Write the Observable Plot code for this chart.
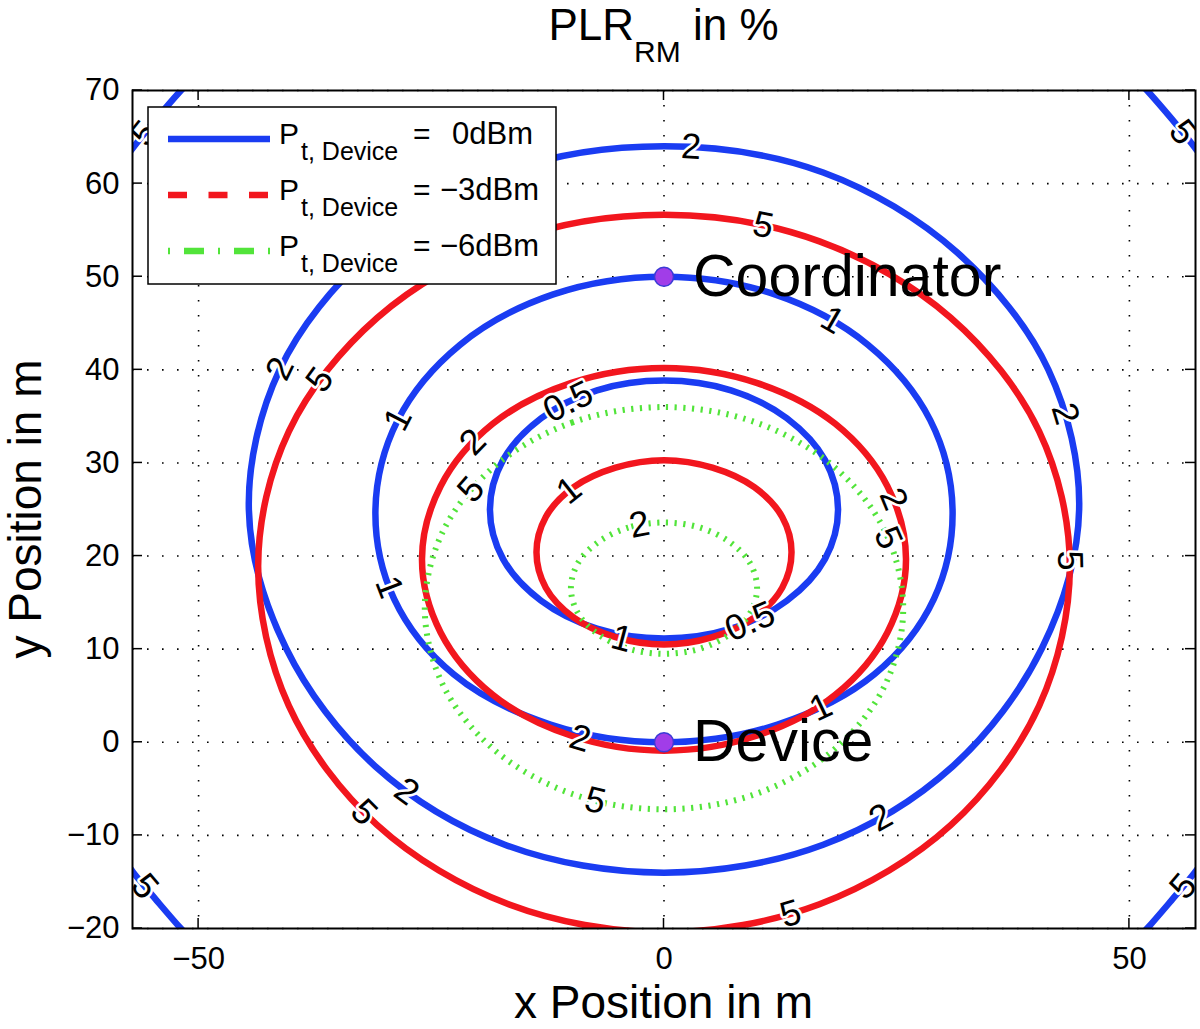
<!DOCTYPE html>
<html>
<head>
<meta charset="utf-8">
<script src="https://cdn.jsdelivr.net/npm/d3@7"></script>
<script src="https://cdn.jsdelivr.net/npm/@observablehq/plot@0.6"></script>
<style>
  html, body { margin: 0; padding: 0; background: #fff; }
  #chart svg { display: block; }
</style>
</head>
<body>
<div id="chart"></div>
<script>
// ---------------- data ----------------
const xTicks = [-50, 0, 50];
const yTicks = [-20, -10, 0, 10, 20, 30, 40, 50, 60, 70];
const xDomain = [-57.1, 57.1];
const yDomain = [-20, 70];

// P_t,Device = 0 dBm (blue) contour lines, levels 0.5, 1, 2, 5 %
const blue05 = [[0,38.85],[-7.2,37.8],[-13.2,34.8],[-17.3,30.3],[-18.7,25],[-17.3,19.7],[-13.2,15.2],[-7.2,12.2],[0,11.15],[7.2,12.2],[13.2,15.2],[17.3,19.7],[18.7,25],[17.3,30.3],[13.2,34.8],[7.2,37.8]];
const blue1 = [[0,50],[-11.9,48.1],[-21.9,42.7],[-28.6,34.6],[-31,25],[-29,15.4],[-22.6,7.3],[-12.2,1.9],[0,0],[12.2,1.9],[22.6,7.3],[29,15.4],[31,25],[28.6,34.6],[21.9,42.7],[11.9,48.1]];
const blue2 = [[0,64],[-17.1,61.2],[-31.5,52.6],[-41.3,40],[-44.6,25],[-40.6,10.1],[-31,-2.6],[-17.1,-11],[0,-14],[17.1,-11],[31,-2.6],[40.6,10.1],[44.6,25],[41.3,40],[31.5,52.6],[17.1,61.2]];
const blue5TL = [[-59.5,60.5],[-57,63.9],[-54.5,67],[-51.9,70],[-49.5,72.5]];
const blue5TR = [[49.5,72.5],[51.9,70],[54.5,67],[57,63.9],[59.5,60.5]];
const blue5BL = [[-59.5,-10.5],[-57,-14],[-54.5,-17],[-51.9,-20],[-49.5,-22.5]];
const blue5BR = [[49.5,-22.5],[51.9,-20],[54.5,-17],[57,-14],[59.5,-10.5]];

// P_t,Device = -3 dBm (red) contour lines, levels 1, 2, 5 %
const red1 = [[0,30.3],[-5.2,29.5],[-9.7,27.4],[-12.7,24.2],[-13.7,20.4],[-12.7,16.6],[-9.7,13.4],[-5.2,11.3],[0,10.5],[5.2,11.3],[9.7,13.4],[12.7,16.6],[13.7,20.4],[12.7,24.2],[9.7,27.4],[5.2,29.5]];
const red2 = [[0,40.2],[-9.95,38.6],[-18.4,34.2],[-24,27.5],[-26,19.65],[-24,11.8],[-18.4,5.1],[-9.95,0.7],[0,-0.9],[9.95,0.7],[18.4,5.1],[24,11.8],[26,19.65],[24,27.5],[18.4,34.2],[9.95,38.6]];
const red5 = [[0,56.65],[-16.7,53.8],[-30.8,45.6],[-40.3,33.4],[-43.6,19],[-40.3,3.9],[-30.8,-8.9],[-16.7,-17.4],[0,-20.4],[16.7,-17.4],[30.8,-8.9],[40.3,3.9],[43.6,19],[40.3,33.4],[30.8,45.6],[16.7,53.8]];

// P_t,Device = -6 dBm (green) contour lines, levels 2, 5 %
const green2 = [[0,23.6],[-3.83,23.06],[-7.07,21.5],[-9.24,19.25],[-10,16.55],[-9.24,13.85],[-7.07,11.6],[-3.83,10.04],[0,9.5],[3.83,10.04],[7.07,11.6],[9.24,13.85],[10,16.55],[9.24,19.25],[7.07,21.5],[3.83,23.06]];
const green5 = [[0,36],[-9.84,34.36],[-18.17,29.67],[-23.74,22.67],[-25.7,14.4],[-23.74,6.13],[-18.17,-0.87],[-9.84,-5.56],[0,-7.2],[9.84,-5.56],[18.17,-0.87],[23.74,6.13],[25.7,14.4],[23.74,22.67],[18.17,29.67],[9.84,34.36]];

// contour labels: [text, contour, x, y]
const contourLabels = [
  ["2","blue2",2.75,63.8], ["5","red5",10.7,55.5], ["1","blue1",18.2,45.5],
  ["2","blue2",-41.0,40.0], ["5","red5",-36.9,39.0], ["1","blue1",-28.6,34.7],
  ["0.5","blue05",-10.2,36.5], ["2","red2",-20.5,32.1], ["5","green5",-20.7,27.2],
  ["1","red1",-10.2,27.0], ["2","green2",-2.6,23.1], ["2","red2",24.5,26.1],
  ["5","green5",23.6,21.8], ["2","blue2",42.95,35.1], ["5","red5",42.95,19.5],
  ["1","blue1",-29.4,16.8], ["0.5","blue05",9.4,12.7], ["1","red1",-4.6,10.9],
  ["1","blue1",16.9,3.6], ["2","red2",-9.15,0.0], ["5","green5",-7.4,-6.6],
  ["2","blue2",-28.1,-6.1], ["5","red5",-32.8,-8.0], ["2","blue2",23.65,-8.8],
  ["5","red5",13.7,-18.4],
  ["5","blue5TL",-56.2,65.7], ["5","blue5TR",55.7,65.5],
  ["5","blue5BL",-55.9,-15.6], ["5","blue5BR",55.7,-15.4]
];

// nodes
const nodeNames = ["Coordinator", "Device"];
const nodeX = [0, 0];
const nodeY = [50, 0];

// legend
const legendValues = ["0dBm", "\u22123dBm", "\u22126dBm"];
const legendSub = "t, Device";

// ---------------- styling ----------------
const FONT = "'Liberation Sans', Arial, Helvetica, sans-serif";
const BLUE = "#1a3cf2", RED = "#f2161e", GREEN = "#52e43a";
const PURPLE = "#a13de8";

const closedSets = {blue05, blue1, blue2, red1, red2, red5, green2, green5};
const openSets = {blue5TL, blue5TR, blue5BL, blue5BR};
const toRows = (name, pts) => pts.map(([x, y]) => ({id: name, x, y}));

const blueClosed = ["blue05","blue1","blue2"].flatMap(n => toRows(n, closedSets[n]));
const blueOpen = Object.keys(openSets).flatMap(n => toRows(n, openSets[n]));
const redClosed = ["red1","red2","red5"].flatMap(n => toRows(n, closedSets[n]));
const greenClosed = ["green2","green5"].flatMap(n => toRows(n, closedSets[n]));

// sample the same catmull-rom curve Plot draws, to place labels on the lines
function sampleCurve(pts, closed) {
  const ns = "http://www.w3.org/2000/svg";
  const s = document.createElementNS(ns, "svg");
  s.style.position = "absolute"; s.style.width = "0"; s.style.height = "0";
  document.body.appendChild(s);
  const p = document.createElementNS(ns, "path");
  p.setAttribute("d", d3.line().curve(closed ? d3.curveCatmullRomClosed : d3.curveCatmullRom)(pts));
  s.appendChild(p);
  const L = p.getTotalLength(), N = 800, out = [];
  for (let i = 0; i < N; i++) { const q = p.getPointAtLength(L * i / (closed ? N : N - 1)); out.push([q.x, q.y]); }
  s.remove();
  return out;
}
const labelRows = contourLabels.map(([t, c, lx, ly]) => {
  const closed = c in closedSets;
  const S = sampleCurve(closed ? closedSets[c] : openSets[c], closed);
  const N = S.length;
  let k = 0, bd = Infinity;
  S.forEach(([x, y], i) => { const d = (x - lx) ** 2 + (y - ly) ** 2; if (d < bd) { bd = d; k = i; } });
  const ia = closed ? (k - 4 + N) % N : Math.max(0, k - 4);
  const ib = closed ? (k + 4) % N : Math.min(N - 1, k + 4);
  let ang = -Math.atan2(S[ib][1] - S[ia][1], S[ib][0] - S[ia][0]) * 180 / Math.PI;
  while (ang > 90) ang -= 180;
  while (ang < -90) ang += 180;
  return {t, x: S[k][0], y: S[k][1], angle: ang};
});

const nodes = nodeNames.map((name, i) => ({name, x: nodeX[i], y: nodeY[i]}));
const fmt = v => v < 0 ? "\u2212" + Math.abs(v) : String(v);

const gridStyle = {stroke: "black", strokeOpacity: 1, strokeWidth: 1.6, strokeDasharray: "1.6,13.4"};

const chart = Plot.plot({
  width: 1200,
  height: 1029,
  marginTop: 90,
  marginRight: 5,
  marginBottom: 101,
  marginLeft: 132,
  style: {fontFamily: FONT, fontSize: "31px", color: "black", background: "white", overflow: "visible"},
  x: {domain: xDomain, label: null},
  y: {domain: yDomain, label: null},
  marks: [
    Plot.gridX(xTicks, gridStyle),
    Plot.gridY(yTicks, gridStyle),
    Plot.line(blueClosed, {x: "x", y: "y", z: "id", stroke: BLUE, strokeWidth: 6.5, curve: "catmull-rom-closed", clip: true}),
    Plot.line(blueOpen, {x: "x", y: "y", z: "id", stroke: BLUE, strokeWidth: 6.5, curve: "catmull-rom", clip: true}),
    Plot.line(redClosed, {x: "x", y: "y", z: "id", stroke: RED, strokeWidth: 6.5, curve: "catmull-rom-closed", clip: true}),
    Plot.line(greenClosed, {x: "x", y: "y", z: "id", stroke: GREEN, strokeWidth: 6, strokeLinecap: "butt", strokeDasharray: "2.2,6.5", curve: "catmull-rom-closed", clip: true}),
    Plot.text(labelRows, {x: "x", y: "y", text: "t", rotate: "angle", fontSize: 36, fontFamily: FONT, fill: "black", stroke: "white", strokeWidth: 5, clip: true}),
    Plot.dot(nodes, {x: "x", y: "y", r: 9.5, fill: PURPLE, stroke: "#3b3bd6", strokeWidth: 1.5}),
    Plot.text(nodes, {x: "x", y: "y", text: "name", textAnchor: "start", dx: 29, fontSize: 59, fontFamily: FONT, fill: "black"}),
    Plot.axisX(xTicks, {anchor: "bottom", tickSize: 0, tickPadding: 18, tickFormat: fmt, fontSize: 31, label: null}),
    Plot.axisY(yTicks, {anchor: "left", tickSize: 0, tickPadding: 13, tickFormat: fmt, fontSize: 31, label: null}),
    Plot.frame({stroke: "black", strokeWidth: 2})
  ]
});
document.getElementById("chart").appendChild(chart);

// ---------------- decorations: inward ticks, title, axis labels, legend ----------------
const svg = d3.select(chart);
const sx = chart.scale("x"), sy = chart.scale("y");
const [fx0, fx1] = sx.range, [fy1, fy0] = sy.range; // fy0 top, fy1 bottom
const T = 10;
const tg = svg.append("g").attr("stroke", "black").attr("stroke-width", 1.5);
xTicks.forEach(v => {
  const px = sx.apply(v);
  tg.append("line").attr("x1", px).attr("x2", px).attr("y1", fy1).attr("y2", fy1 - T);
  tg.append("line").attr("x1", px).attr("x2", px).attr("y1", fy0).attr("y2", fy0 + T);
});
yTicks.forEach(v => {
  const py = sy.apply(v);
  tg.append("line").attr("x1", fx0).attr("x2", fx0 + T).attr("y1", py).attr("y2", py);
  tg.append("line").attr("x1", fx1).attr("x2", fx1 - T).attr("y1", py).attr("y2", py);
});

const cx = (fx0 + fx1) / 2;
const title = svg.append("text").attr("x", cx).attr("y", 40).attr("text-anchor", "middle")
  .attr("font-family", FONT).attr("font-size", 44).attr("fill", "black");
title.append("tspan").text("PLR");
title.append("tspan").attr("font-size", 30).attr("dy", 22).text("RM");
title.append("tspan").attr("dy", -22).text("\u00a0in %");

svg.append("text").attr("x", cx).attr("y", 1018).attr("text-anchor", "middle")
  .attr("font-family", FONT).attr("font-size", 46).attr("fill", "black").text("x Position in m");
svg.append("text").attr("transform", `translate(41,${(fy0 + fy1) / 2}) rotate(-90)`).attr("text-anchor", "middle")
  .attr("font-family", FONT).attr("font-size", 46).attr("fill", "black").text("y Position in m");

const lg = svg.append("g").attr("font-family", FONT).attr("fill", "black").attr("text-anchor", "start");
lg.append("rect").attr("x", 148).attr("y", 107).attr("width", 408).attr("height", 177)
  .attr("fill", "white").attr("stroke", "black").attr("stroke-width", 1.5);
const legendStyles = [
  {color: BLUE, dash: null},
  {color: RED, dash: "19,21.5"},
  {color: GREEN, dash: "2,14,20,14"}
];
legendValues.forEach((val, i) => {
  const cy = 139 + 56 * i;
  const st = legendStyles[i];
  const ln = lg.append("line").attr("x1", 168).attr("x2", 270).attr("y1", cy).attr("y2", cy)
    .attr("stroke", st.color).attr("stroke-width", 6.5).attr("stroke-linecap", "butt");
  if (st.dash) ln.attr("stroke-dasharray", st.dash);
  lg.append("text").attr("x", 279).attr("y", cy + 5).attr("font-size", 30).text("P");
  lg.append("text").attr("x", 301).attr("y", cy + 21).attr("font-size", 25).text(legendSub);
  lg.append("text").attr("x", 413).attr("y", cy + 5).attr("font-size", 30).text("=");
  lg.append("text").attr("x", val.startsWith("\u2212") ? 440 : 452).attr("y", cy + 5).attr("font-size", 31).text(val);
});
</script>
</body>
</html>
